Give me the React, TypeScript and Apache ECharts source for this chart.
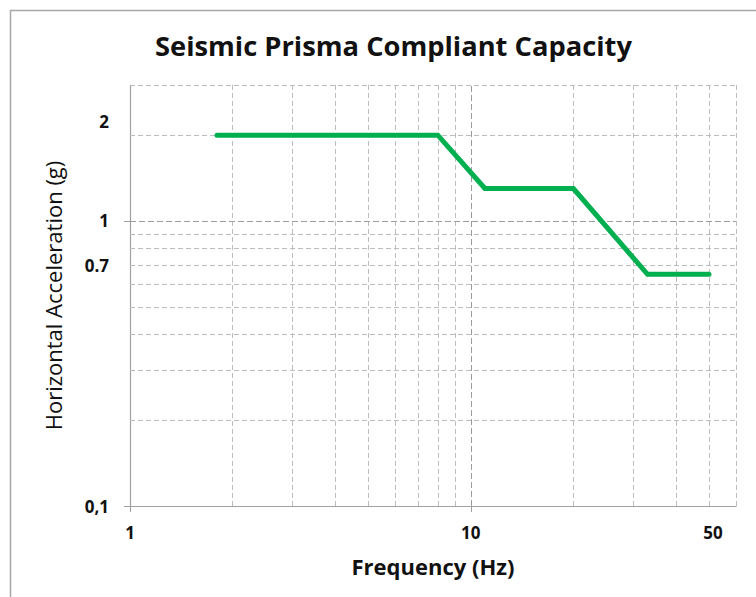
import React, { useEffect, useRef } from "react";
import * as echarts from "echarts";

// Data
const frequencyHz = [1.8, 8, 11, 20, 33, 50];
const accelerationG = [2, 2, 1.3, 1.3, 0.65, 0.65];

// Axis ranges and labels
const xRange = [1, 60];
const yRange = [0.1, 3];
const xTickLabels = [1, 10, 50];
const xTickMarks = [1, 10];
const yTickLabels = [0.1, 0.7, 1, 2];
const yTickMarks = [0.1, 1];

// Gridlines (log scale)
const xMinorGrid = [2, 3, 4, 5, 6, 7, 8, 9, 20, 30, 40, 50, 60];
const xMajorGrid = [10];
const yMinorGrid = [0.2, 0.3, 0.4, 0.5, 0.6, 0.7, 0.8, 0.9, 2, 3];
const yMajorGrid = [1];

const FONT = "'Open Sans', 'Noto Sans', sans-serif";

export default function App() {
  const ref = useRef<HTMLDivElement>(null);

  useEffect(() => {
    if (!ref.current) return;
    const chart = echarts.init(ref.current, null, { renderer: "svg" });

    const minorStyle = { color: "#bdbdbd", width: 1, type: [5, 3] as any };
    const majorStyle = { color: "#9c9c9c", width: 1, type: [6, 3] as any };

    const gridData: any[] = [
      ...xMinorGrid.map((v) => ({ xAxis: v, lineStyle: minorStyle })),
      ...xMajorGrid.map((v) => ({ xAxis: v, lineStyle: majorStyle })),
      ...yMinorGrid.map((v) => ({ yAxis: v, lineStyle: minorStyle })),
      ...yMajorGrid.map((v) => ({ yAxis: v, lineStyle: majorStyle })),
    ];

    const points = frequencyHz.map((f, i) => [f, accelerationG[i]]);

    chart.setOption({
      animation: false,
      backgroundColor: "#ffffff",
      title: {
        text: "Seismic Prisma Compliant Capacity",
        left: 150,
        top: 27,
        textStyle: {
          fontFamily: FONT,
          fontWeight: "bold",
          fontSize: 27.3,
          color: "#111111",
        },
      },
      graphic: [
        {
          type: "rect",
          shape: { x: 10.5, y: 10.5, width: 800, height: 700 },
          style: { fill: "none", stroke: "#a8a8a8", lineWidth: 1.5 },
          silent: true,
        },
      ],
      grid: {
        left: 130,
        top: 85,
        right: 20,
        bottom: 91,
        containLabel: false,
        outerBoundsMode: "none",
      },
      xAxis: {
        type: "log",
        logBase: 10,
        min: xRange[0],
        max: xRange[1],
        name: "Frequency (Hz)",
        nameLocation: "middle",
        nameGap: 49,
        nameTextStyle: {
          fontFamily: FONT,
          fontWeight: "bold",
          fontSize: 22,
          color: "#111111",
        },
        axisLine: { show: true, lineStyle: { color: "#a0a0a0", width: 1.2 } },
        axisTick: {
          show: true,
          customValues: xTickMarks,
          length: 6,
          lineStyle: { color: "#a0a0a0" },
        },
        axisLabel: {
          customValues: xTickLabels,
          margin: 18,
          fontFamily: FONT,
          fontWeight: "bold",
          fontSize: 17,
          color: "#111111",
          formatter: (v: number) => (v === 50 ? "{r|50}" : String(v)),
          rich: {
            r: {
              fontFamily: FONT,
              fontWeight: "bold",
              fontSize: 17,
              color: "#111111",
              padding: [0, 0, 8, 8],
            },
          },
        },
        splitLine: { show: false },
        minorSplitLine: { show: false },
      },
      yAxis: {
        type: "log",
        logBase: 10,
        min: yRange[0],
        max: yRange[1],
        name: "Horizontal Acceleration (g)",
        nameLocation: "middle",
        nameGap: 66,
        nameTextStyle: {
          fontFamily: FONT,
          fontWeight: "normal",
          fontSize: 22,
          color: "#111111",
        },
        axisLine: { show: true, lineStyle: { color: "#a0a0a0", width: 1.2 } },
        axisTick: {
          show: true,
          customValues: yTickMarks,
          length: 6,
          lineStyle: { color: "#a0a0a0" },
        },
        axisLabel: {
          customValues: yTickLabels,
          margin: 21,
          fontFamily: FONT,
          fontWeight: "bold",
          fontSize: 17,
          color: "#111111",
          formatter: (v: number) => {
            if (Math.abs(v - 0.1) < 1e-9) return "0,1";
            if (v === 2) return "{up|2}";
            return String(v);
          },
          rich: {
            up: {
              fontFamily: FONT,
              fontWeight: "bold",
              fontSize: 17,
              color: "#111111",
              padding: [0, 0, 28, 0],
            },
          },
        },
        splitLine: { show: false },
        minorSplitLine: { show: false },
      },
      series: [
        {
          type: "line",
          z: 1,
          data: points,
          symbol: "none",
          silent: true,
          lineStyle: { opacity: 0 },
          markLine: {
            z: 1,
            silent: true,
            symbol: ["none", "none"],
            label: { show: false },
            emphasis: { disabled: true },
            animation: false,
            data: gridData,
          },
        },
        {
          type: "line",
          z: 10,
          data: points,
          symbol: "none",
          silent: true,
          lineStyle: { color: "#00b050", width: 5, cap: "round", join: "miter" },
        },
      ],
    });

    return () => chart.dispose();
  }, []);

  return (
    <div
      ref={ref}
      style={{ position: "absolute", left: 0, top: 0, width: 756, height: 597 }}
    />
  );
}
